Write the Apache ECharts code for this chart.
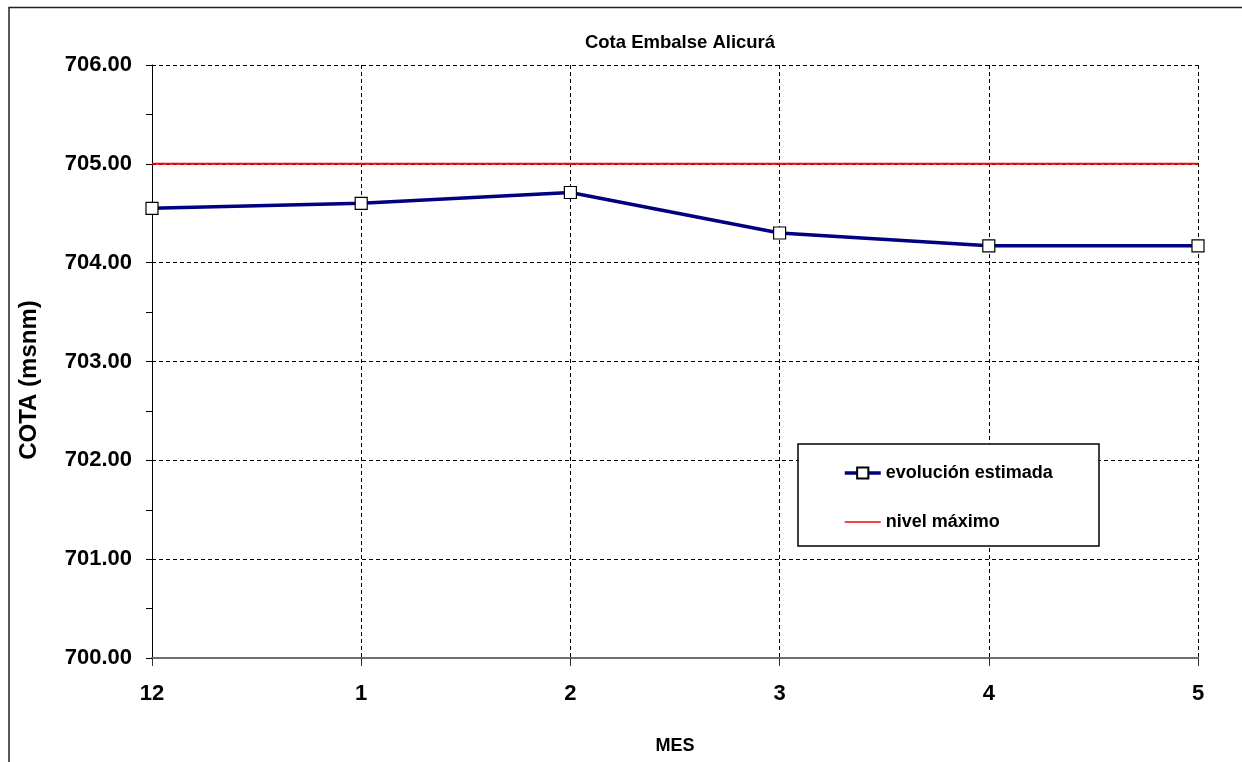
<!DOCTYPE html>
<html>
<head>
<meta charset="utf-8">
<script src="https://cdn.jsdelivr.net/npm/echarts@6/dist/echarts.min.js"></script>
<style>
html,body{margin:0;padding:0;background:#fff;}
#chart{width:1242px;height:762px;}
</style>
</head>
<body>
<div id="chart"></div>
<script>
var titleText = 'Cota Embalse Alicurá';
var yAxisTitle = 'COTA (msnm)';
var xAxisTitle = 'MES';
var months = ['12', '1', '2', '3', '4', '5'];
var cotaEstimada = [704.55, 704.60, 704.71, 704.30, 704.17, 704.17];
var nivelMaximo = [705.00, 705.00, 705.00, 705.00, 705.00, 705.00];
var yMin = 700, yMax = 706, yStep = 1;

var FONT = '"Liberation Sans", Arial, sans-serif';
var chart = echarts.init(document.getElementById('chart'));
chart.setOption({
  backgroundColor: '#fff',
  animation: false,
  textStyle: { fontFamily: FONT },
  title: {
    text: titleText,
    left: 675, top: 28, textAlign: 'center',
    textStyle: { fontFamily: FONT, fontSize: 18.5, fontWeight: 'bold', color: '#000' }
  },
  graphic: [
    { type: 'rect', z: 0, shape: { x: 9, y: 7.5, width: 1300, height: 800 },
      style: { fill: 'none', stroke: '#222', lineWidth: 1.5 } },
    { type: 'rect', z: 3, shape: { x: 798, y: 444, width: 301, height: 102 },
      style: { fill: '#fff', stroke: '#000', lineWidth: 1.5 } },
    { type: 'text', z: 3, x: 29, y: 380, rotation: Math.PI / 2,
      style: { text: yAxisTitle, fontFamily: FONT, fontSize: 24, fontWeight: 'bold', fill: '#000',
        align: 'center', verticalAlign: 'middle' } }
  ],
  legend: {
    orient: 'vertical',
    left: 843, top: 463,
    padding: 0,
    itemWidth: 36, itemHeight: 14, itemGap: 29,
    z: 5,
    textStyle: { fontFamily: FONT, fontSize: 18, fontWeight: 'bold', color: '#000', lineHeight: 20 },
    data: [
      { name: 'evolución estimada', lineStyle: { width: 3.5, color: '#000080' } },
      { name: 'nivel máximo', itemStyle: { opacity: 0 }, lineStyle: { width: 1.5, color: '#ff0000' } }
    ]
  },
  grid: { left: 152, right: 44, top: 65, bottom: 104, containLabel: false },
  xAxis: {
    type: 'category',
    data: months,
    boundaryGap: false,
    name: xAxisTitle,
    nameLocation: 'middle',
    nameGap: 79,
    nameTextStyle: { fontFamily: FONT, fontSize: 18, fontWeight: 'bold', color: '#000' },
    axisLine: { lineStyle: { color: '#707070', width: 2 } },
    axisTick: { show: true, length: 8, lineStyle: { color: '#333', width: 1 } },
    axisLabel: { margin: 25, fontFamily: FONT, fontSize: 22, fontWeight: 'bold', color: '#000' },
    splitLine: { show: true, lineStyle: { color: '#000', width: 1, type: [4, 3] } }
  },
  yAxis: {
    type: 'value',
    min: yMin, max: yMax, interval: yStep,
    axisLine: { show: true, lineStyle: { color: '#000', width: 1 } },
    axisTick: { show: true, length: 6, lineStyle: { color: '#000', width: 1 } },
    minorTick: { show: true, splitNumber: 2, length: 6, lineStyle: { color: '#000', width: 1 } },
    axisLabel: { margin: 20, fontFamily: FONT, fontSize: 22, fontWeight: 'bold', color: '#000',
      formatter: function (v) { return v.toFixed(2); } },
    splitLine: { show: true, lineStyle: { color: '#000', width: 1, type: [4, 3] } }
  },
  series: [
    {
      name: 'evolución estimada',
      type: 'line',
      data: cotaEstimada,
      z: 4,
      symbol: 'rect',
      symbolSize: 12,
      lineStyle: { color: '#000080', width: 3.5 },
      itemStyle: { color: '#fff', borderColor: '#000', borderWidth: 1.2 },
      color: '#000080'
    },
    {
      name: 'nivel máximo',
      type: 'line',
      data: nivelMaximo,
      z: 3,
      symbol: 'none',
      lineStyle: { color: '#ff0000', width: 2 },
      itemStyle: { color: '#ff0000' },
      color: '#ff0000'
    }
  ]
});
</script>
</body>
</html>
